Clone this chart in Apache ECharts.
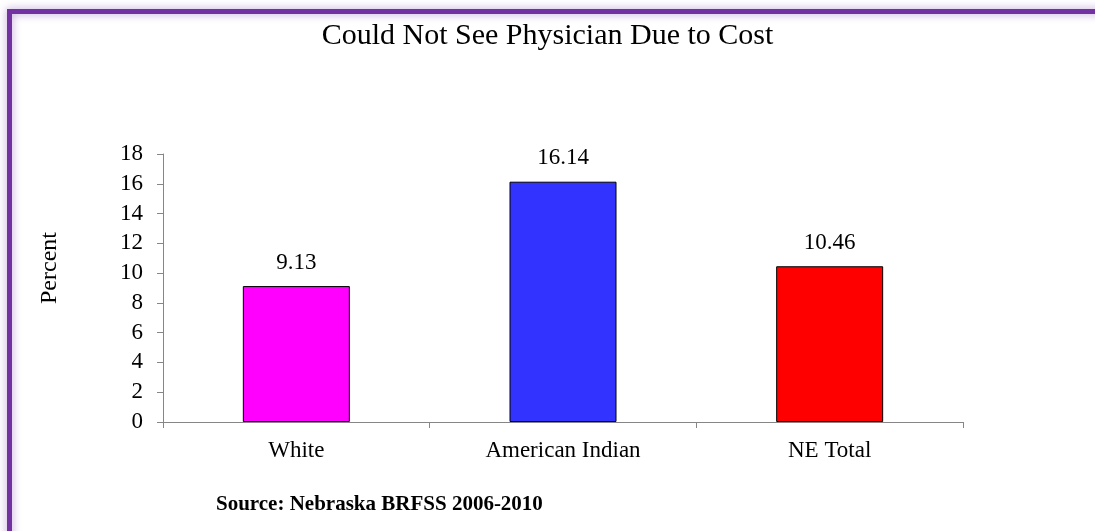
<!DOCTYPE html>
<html>
<head>
<meta charset="utf-8">
<script src="https://cdn.jsdelivr.net/npm/echarts@6/dist/echarts.min.js"></script>
<style>
  html, body { margin: 0; padding: 0; background: #ffffff; }
  #chart { width: 1095px; height: 531px; }
</style>
</head>
<body>
<div id="chart"></div>
<script>
// Share of adults who could not see a physician due to cost, by group
const categories = ['White', 'American Indian', 'NE Total'];
const percentValues = [9.13, 16.14, 10.46];
const barColors = ['#ff00ff', '#3333ff', '#ff0000'];
const yTicks = { min: 0, max: 18, interval: 2 };

const FONT = '"Liberation Serif", "DejaVu Serif", serif';

const chart = echarts.init(document.getElementById('chart'), null, { renderer: 'canvas' });

chart.setOption({
  backgroundColor: '#ffffff',
  animation: false,
  graphic: [
    {
      // purple frame with a soft outer glow
      type: 'rect',
      z: -10,
      shape: { x: 9.5, y: 11.5, width: 1200, height: 700 },
      style: {
        fill: 'rgba(0,0,0,0)',
        stroke: '#7232a2',
        lineWidth: 5,
        shadowBlur: 9,
        shadowColor: 'rgba(120,60,170,0.5)'
      }
    },
    {
      type: 'text',
      x: 50,
      y: 268,
      rotation: Math.PI / 2,
      style: {
        text: 'Percent',
        font: '24px ' + FONT,
        fill: '#000000',
        align: 'center',
        verticalAlign: 'middle'
      }
    },
    {
      type: 'text',
      x: 216,
      y: 505,
      style: {
        text: 'Source: Nebraska BRFSS 2006-2010',
        font: 'bold 21px ' + FONT,
        fill: '#000000',
        align: 'left',
        verticalAlign: 'middle'
      }
    }
  ],
  title: {
    text: 'Could Not See Physician Due to Cost',
    left: 'center',
    top: 16,
    textStyle: { fontFamily: FONT, fontSize: 30, fontWeight: 'normal', color: '#000000' }
  },
  grid: { left: 163, right: 132, top: 154, bottom: 109 },
  xAxis: {
    type: 'category',
    data: categories,
    axisLine: { lineStyle: { color: '#868686', width: 1 } },
    axisTick: { show: true, length: 6, lineStyle: { color: '#868686' } },
    axisLabel: { fontFamily: FONT, fontSize: 23, color: '#000000', margin: 17 }
  },
  yAxis: {
    type: 'value',
    min: yTicks.min,
    max: yTicks.max,
    interval: yTicks.interval,
    axisLine: { show: true, lineStyle: { color: '#868686', width: 1 } },
    axisTick: { show: true, length: 6, lineStyle: { color: '#868686' } },
    splitLine: { show: false },
    axisLabel: { fontFamily: FONT, fontSize: 23, color: '#000000', margin: 20 }
  },
  series: [{
    type: 'bar',
    barWidth: 107,
    data: percentValues.map((v, i) => ({
      value: v,
      itemStyle: { color: barColors[i], borderColor: '#000000', borderWidth: 1 }
    })),
    label: {
      show: true,
      position: 'top',
      distance: 12,
      fontFamily: FONT,
      fontSize: 23,
      color: '#000000',
      formatter: p => p.value.toFixed(2)
    }
  }]
});
</script>
</body>
</html>
